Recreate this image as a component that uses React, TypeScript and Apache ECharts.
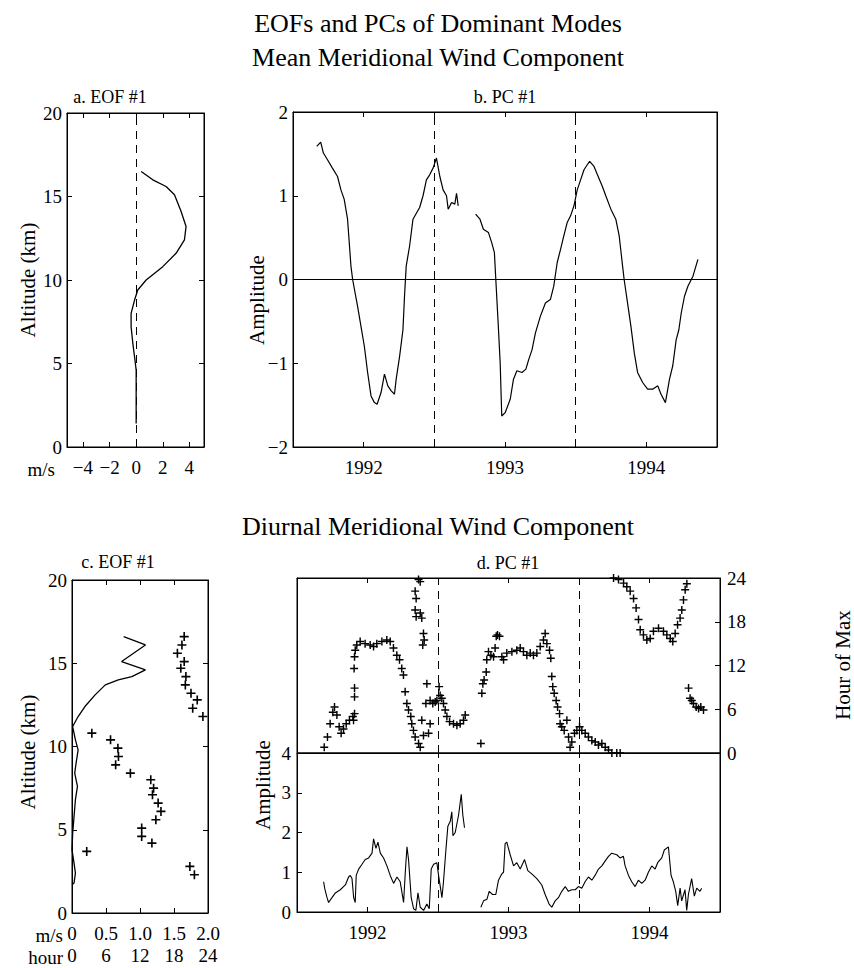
import React, { useEffect, useRef } from "react";
import * as echarts from "echarts";

// ---------- data ----------
const altitudeTicks = [0, 5, 10, 15, 20];
const meanEofTicks = [-4, -2, 0, 2, 4];
const yearMarks = [1992.5, 1993.5];

// a. EOF #1 (mean): [m/s, km]
const meanEof = [
  [0.38, 16.5], [1.25, 16.0], [2.25, 15.6], [2.88, 15.1], [3.38, 14.1], [3.75, 13.2],
  [3.63, 12.4], [3.0, 11.6], [2.0, 10.8], [0.75, 10.0], [0.12, 9.4], [-0.12, 8.8],
  [-0.38, 8.0], [-0.38, 7.2], [-0.25, 6.2], [-0.12, 5.4], [0, 4.6], [0, 2.8], [0, 1.4],
];

// b. PC #1 (mean): [year, amplitude]
const meanPcPart1 = [
  [1991.668, 1.59], [1991.696, 1.64], [1991.715, 1.51], [1991.744, 1.43], [1991.779, 1.33],
  [1991.815, 1.23], [1991.839, 1.07], [1991.862, 0.96], [1991.886, 0.72], [1991.91, 0.16],
  [1991.922, 0], [1991.957, -0.32], [1991.981, -0.56], [1992.005, -0.8], [1992.028, -1.11],
  [1992.052, -1.39], [1992.076, -1.47], [1992.095, -1.49], [1992.123, -1.35], [1992.147, -1.13],
  [1992.171, -1.27], [1992.195, -1.33], [1992.218, -1.37], [1992.23, -1.19], [1992.254, -0.92],
  [1992.278, -0.6], [1992.289, -0.2], [1992.301, 0.16], [1992.325, 0.4], [1992.349, 0.72],
  [1992.396, 0.86], [1992.42, 1.0], [1992.444, 1.19], [1992.467, 1.25], [1992.491, 1.33],
  [1992.515, 1.45], [1992.539, 1.23], [1992.562, 1.07], [1992.586, 1.0], [1992.598, 0.84],
  [1992.622, 0.92], [1992.645, 0.9], [1992.657, 1.03], [1992.669, 0.88],
];
const meanPcPart2 = [
  [1992.792, 0.78], [1992.823, 0.72], [1992.847, 0.6], [1992.883, 0.56], [1992.906, 0.44],
  [1992.925, 0.32], [1992.935, 0], [1992.954, -0.6], [1992.966, -1.0], [1992.977, -1.63],
  [1993.001, -1.59], [1993.037, -1.43], [1993.06, -1.19], [1993.084, -1.09], [1993.12, -1.11],
  [1993.148, -1.07], [1993.167, -0.96], [1993.191, -0.84], [1993.215, -0.64], [1993.25, -0.44],
  [1993.286, -0.28], [1993.321, -0.24], [1993.345, -0.08], [1993.369, 0.2], [1993.393, 0.36],
  [1993.416, 0.52], [1993.44, 0.68], [1993.464, 0.76], [1993.488, 0.88], [1993.511, 1.07],
  [1993.535, 1.19], [1993.559, 1.31], [1993.582, 1.37], [1993.599, 1.41], [1993.63, 1.35],
  [1993.654, 1.25], [1993.689, 1.11], [1993.713, 1.0], [1993.749, 0.84], [1993.784, 0.72],
  [1993.808, 0.52], [1993.832, 0.16], [1993.843, 0], [1993.867, -0.28], [1993.891, -0.56],
  [1993.915, -0.88], [1993.938, -1.11], [1993.974, -1.23], [1994.009, -1.31], [1994.045, -1.31],
  [1994.081, -1.27], [1994.104, -1.37], [1994.135, -1.47], [1994.164, -1.19], [1994.187, -1.03],
  [1994.211, -0.72], [1994.23, -0.6], [1994.247, -0.4], [1994.27, -0.2], [1994.294, -0.08],
  [1994.33, 0.04], [1994.365, 0.24],
];

// c. EOF #1 (diurnal): amplitude [m/s, km] and phase [hour, km]
const diurnalEofAmp = [
  [0.76, 16.6], [1.08, 16.1], [0.73, 15.1], [1.08, 14.6], [0.88, 14.2], [0.68, 14.0],
  [0.49, 13.7], [0.34, 13.1], [0.19, 12.4], [0.09, 11.8], [0.01, 11.2], [0.05, 10.4],
  [0.09, 9.8], [0.06, 9.0], [0.04, 8.4], [0.08, 7.6], [0.05, 6.8], [0.03, 5.8], [0.01, 4.8],
  [0, 3.8], [0.03, 3.0], [0.05, 2.4], [0.03, 1.8], [0, 1.7],
];
const diurnalEofHour = [
  [19.8, 16.6], [19.4, 16.1], [18.6, 15.6], [19.8, 15.1], [19.2, 14.7], [20.1, 14.2],
  [20.0, 13.7], [21.0, 13.2], [22.1, 12.8], [21.3, 12.3], [23.1, 11.8], [3.5, 10.8],
  [6.8, 10.4], [8.1, 9.9], [8.2, 9.4], [7.7, 8.9], [10.3, 8.4], [13.9, 8.0], [14.4, 7.5],
  [14.2, 7.1], [15.2, 6.6], [15.7, 6.1], [14.8, 5.6], [12.3, 5.1], [12.3, 4.6], [14.1, 4.2],
  [2.6, 3.7], [20.8, 2.8], [21.6, 2.3],
];

// d. PC #1 (diurnal): hour of max [year, hour]
const diurnalPcHour = [
  [1991.693, 0.8], [1991.716, 2.2], [1991.735, 4.0], [1991.754, 5.6], [1991.766, 6.3],
  [1991.783, 5.2], [1991.799, 3.6], [1991.813, 2.7], [1991.83, 3.3], [1991.849, 4.0],
  [1991.872, 4.5], [1991.896, 5.0], [1991.908, 5.4], [1991.901, 4.5], [1991.908, 7.7],
  [1991.908, 8.9], [1991.905, 11.6], [1991.908, 13.2], [1991.913, 14.1], [1991.924, 14.8],
  [1991.948, 15.3], [1991.983, 15.0], [1992.019, 14.8], [1992.043, 14.6], [1992.066, 15.0],
  [1992.102, 15.3], [1992.137, 15.5], [1992.161, 15.3], [1992.184, 14.4], [1992.208, 13.4],
  [1992.227, 12.8], [1992.243, 11.6], [1992.255, 10.7], [1992.267, 8.4], [1992.279, 6.8],
  [1992.291, 5.9], [1992.307, 5.0], [1992.314, 4.0], [1992.326, 3.1], [1992.338, 2.2],
  [1992.362, 1.3], [1992.374, 0.8], [1992.397, 2.4], [1992.385, 4.5], [1992.414, 6.8],
  [1992.421, 9.5], [1992.433, 2.7], [1992.444, 4.0], [1992.444, 7.2], [1992.463, 6.8],
  [1992.48, 7.0], [1992.492, 7.2], [1992.508, 9.1], [1992.515, 7.9], [1992.527, 7.5],
  [1992.539, 6.8], [1992.551, 5.9], [1992.563, 5.0], [1992.582, 4.3], [1992.61, 4.0],
  [1992.634, 3.8], [1992.657, 4.0], [1992.681, 4.5], [1992.693, 5.2],
  [1992.362, 23.8], [1992.374, 23.5], [1992.338, 22.2], [1992.345, 21.2], [1992.338, 19.6],
  [1992.345, 18.7], [1992.374, 19.2], [1992.385, 18.5], [1992.397, 16.4], [1992.402, 15.5],
  [1992.392, 14.8],
  [1992.804, 1.3],
  [1992.811, 8.2], [1992.818, 9.5], [1992.827, 10.0], [1992.842, 11.1], [1992.846, 12.8],
  [1992.858, 13.9], [1992.875, 13.4], [1992.894, 13.2], [1992.905, 14.4], [1992.913, 16.0],
  [1992.922, 16.2], [1992.936, 16.0], [1992.953, 13.2], [1992.965, 12.8], [1992.988, 13.7],
  [1993.024, 13.9], [1993.059, 14.1], [1993.083, 14.4], [1993.106, 13.9], [1993.13, 13.4],
  [1993.154, 13.7], [1993.177, 13.4], [1993.201, 13.7], [1993.225, 14.6], [1993.248, 15.5],
  [1993.26, 16.4], [1993.272, 15.0], [1993.291, 14.1], [1993.3, 13.0], [1993.307, 10.5],
  [1993.314, 9.1], [1993.324, 8.2], [1993.338, 7.2], [1993.348, 6.3], [1993.362, 5.4],
  [1993.366, 4.0], [1993.378, 3.6], [1993.395, 3.1], [1993.414, 4.5], [1993.426, 2.2],
  [1993.437, 0.8], [1993.449, 1.5], [1993.468, 2.7], [1993.485, 3.1], [1993.504, 3.6],
  [1993.52, 3.1], [1993.544, 2.7], [1993.567, 2.2], [1993.591, 1.7], [1993.615, 1.5],
  [1993.638, 1.1], [1993.662, 1.3], [1993.686, 0.8], [1993.709, 0.4], [1993.733, 0],
  [1993.768, 0], [1993.792, 0],
  [1993.745, 24], [1993.78, 23.8], [1993.816, 23.3], [1993.839, 22.8], [1993.863, 22.2],
  [1993.887, 21.2], [1993.905, 19.9], [1993.922, 18.3], [1993.934, 16.9], [1993.957, 16.2],
  [1993.981, 15.5], [1994.005, 15.7], [1994.028, 16.7], [1994.064, 17.1], [1994.099, 16.7],
  [1994.123, 16.2], [1994.147, 15.7], [1994.165, 15.3], [1994.182, 16.4], [1994.199, 17.6],
  [1994.217, 18.5], [1994.229, 19.6], [1994.241, 21.0], [1994.253, 22.4], [1994.265, 23.2],
  [1994.277, 8.9], [1994.288, 7.5], [1994.3, 7.2], [1994.312, 6.8], [1994.331, 6.3],
  [1994.348, 6.1], [1994.364, 6.3], [1994.383, 5.9],
];

// d. PC #1 (diurnal): amplitude [year, amplitude]
const diurnalPcPart1 = [
  [1991.689, 0.76], [1991.696, 0.6], [1991.713, 0.36], [1991.724, 0.24], [1991.748, 0.36],
  [1991.772, 0.48], [1991.807, 0.56], [1991.843, 0.68], [1991.866, 0.88], [1991.878, 0.92],
  [1991.89, 0.84], [1991.902, 0.36], [1991.913, 0.24], [1991.92, 0.92], [1991.937, 1.08],
  [1991.961, 1.2], [1991.984, 1.32], [1992.008, 1.36], [1992.032, 1.48], [1992.043, 1.84],
  [1992.06, 1.6], [1992.074, 1.76], [1992.091, 1.48], [1992.114, 1.36], [1992.138, 1.16],
  [1992.161, 0.92], [1992.185, 0.72], [1992.209, 0.88], [1992.232, 0.76], [1992.256, 0.24],
  [1992.268, 1.0], [1992.28, 1.64], [1992.291, 1.32], [1992.31, 0.36], [1992.327, 0.08],
  [1992.343, 0.04], [1992.358, 0.48], [1992.374, 0.12], [1992.398, 0.04], [1992.421, 0.2],
  [1992.438, 0.08], [1992.452, 1.08], [1992.469, 1.2], [1992.492, 1.24], [1992.504, 0.92],
  [1992.528, 0.36], [1992.539, 0.76], [1992.556, 1.56], [1992.57, 2.16], [1992.587, 2.28],
  [1992.598, 2.52], [1992.606, 1.92], [1992.622, 2.0], [1992.646, 2.44], [1992.665, 2.96],
  [1992.676, 2.44], [1992.688, 2.12],
];
const diurnalPcPart2 = [
  [1992.804, 0.12], [1992.823, 0.28], [1992.847, 0.32], [1992.863, 0.52], [1992.887, 0.44],
  [1992.91, 0.44], [1992.929, 0.8], [1992.953, 0.96], [1992.965, 1.0], [1992.976, 1.72],
  [1992.988, 1.76], [1993.012, 1.44], [1993.036, 1.16], [1993.059, 1.24], [1993.083, 1.08],
  [1993.114, 1.32], [1993.137, 1.04], [1993.165, 0.96], [1993.201, 0.84], [1993.236, 0.68],
  [1993.26, 0.44], [1993.288, 0.2], [1993.307, 0.12], [1993.331, 0.28], [1993.354, 0.36],
  [1993.378, 0.52], [1993.402, 0.64], [1993.425, 0.52], [1993.449, 0.56], [1993.473, 0.56],
  [1993.496, 0.64], [1993.52, 0.6], [1993.543, 0.76], [1993.567, 0.88], [1993.591, 0.8],
  [1993.614, 0.92], [1993.638, 1.08], [1993.662, 1.16], [1993.685, 1.28], [1993.709, 1.4],
  [1993.732, 1.48], [1993.768, 1.44], [1993.791, 1.36], [1993.815, 1.4], [1993.827, 1.16],
  [1993.851, 0.92], [1993.874, 0.76], [1993.898, 0.64], [1993.921, 0.8], [1993.945, 0.72],
  [1993.969, 0.8], [1993.992, 1.0], [1994.016, 1.16], [1994.04, 1.08], [1994.058, 1.24],
  [1994.087, 1.36], [1994.105, 1.56], [1994.134, 1.64], [1994.153, 0.92], [1994.169, 0.76],
  [1994.186, 0.52], [1994.2, 0.16], [1994.217, 0.6], [1994.228, 0.28], [1994.252, 0.56],
  [1994.264, 0.04], [1994.276, 0.44], [1994.299, 0.84], [1994.318, 0.4], [1994.335, 0.6],
  [1994.358, 0.52], [1994.37, 0.6],
];

// ---------- styling helpers ----------
const FONT = "'Liberation Serif', 'Times New Roman', serif";
const BLACK = "#000";
const PLUS = "path://M4.1,0H5.9V10H4.1ZM0,4.1H10V5.9H0Z";
const TICK_FS = 19;

const line = { show: true, onZero: false, lineStyle: { color: BLACK, width: 1 } };
const tick = (extra: any = {}) => ({ show: true, inside: true, length: 5, lineStyle: { color: BLACK, width: 1 }, ...extra });
const label = (extra: any = {}) => ({ show: true, color: BLACK, fontFamily: FONT, fontSize: TICK_FS, ...extra });
const noLabel = { show: false };
const noSplit = { show: false };
const minus = (v: number) => (v < 0 ? "\u2212" + Math.abs(v) : String(v));
const yearFmt = (v: number) => (Math.abs(v - Math.round(v)) < 1e-6 && v > 1991.9 && v < 1994.1 ? String(Math.round(v)) : "");

const dashed = { color: BLACK, width: 1, type: [8, 6] as any };
const vMarks = (extra: any[] = []) => ({
  silent: true,
  symbol: ["none", "none"],
  label: { show: false },
  lineStyle: dashed,
  data: [...yearMarks.map((v) => ({ xAxis: v })), ...extra],
});

const text = (t: string, x: number, y: number, size: number, extra: any = {}) => ({
  type: "text",
  x,
  y,
  silent: true,
  ...extra,
  style: {
    text: t,
    font: `${size}px ${FONT}`,
    fill: BLACK,
    align: extra.align || "center",
    verticalAlign: "middle",
    textAlign: extra.align || "center",
    textVerticalAlign: "middle",
  },
});

export default function App() {
  const ref = useRef<HTMLDivElement>(null);

  useEffect(() => {
    document.body.style.margin = "0";
    if (!ref.current) return;
    const chart = echarts.init(ref.current, undefined, { renderer: "svg" });

    const gridBase = { show: true, borderColor: BLACK, borderWidth: 1, backgroundColor: "transparent", containLabel: false };

    const option: any = {
      animation: false,
      backgroundColor: "#fff",
      textStyle: { fontFamily: FONT, color: BLACK },
      grid: [
        { ...gridBase, left: 67, top: 113, width: 137, height: 334 },
        { ...gridBase, left: 293, top: 112, width: 424, height: 335 },
        { ...gridBase, left: 72, top: 580, width: 136, height: 333 },
        { ...gridBase, left: 297, top: 578, width: 423, height: 175 },
        { ...gridBase, left: 297, top: 753, width: 423, height: 159 },
      ],
      xAxis: [
        {
          gridIndex: 0, type: "value", min: -5.2, max: 5.1, position: "bottom",
          axisLine: line, splitLine: noSplit,
          axisTick: tick({ customValues: meanEofTicks }),
          axisLabel: label({ customValues: meanEofTicks, margin: 11, formatter: minus }),
        },
        {
          gridIndex: 0, type: "value", min: -5.2, max: 5.1, position: "top",
          axisLine: line, splitLine: noSplit, axisTick: tick({ customValues: meanEofTicks }), axisLabel: noLabel,
        },
        {
          gridIndex: 1, type: "value", min: 1991.5, max: 1994.5, interval: 0.5, position: "bottom",
          axisLine: line, splitLine: noSplit, axisTick: tick(), axisLabel: label({ margin: 11, formatter: yearFmt }),
        },
        {
          gridIndex: 1, type: "value", min: 1991.5, max: 1994.5, interval: 0.5, position: "top",
          axisLine: line, splitLine: noSplit, axisTick: tick(), axisLabel: noLabel,
        },
        {
          gridIndex: 2, type: "value", min: 0, max: 2, interval: 0.5, position: "bottom",
          axisLine: line, splitLine: noSplit, axisTick: tick(),
          axisLabel: label({ margin: 11, formatter: (v: number) => (v === 0 ? "0" : v.toFixed(1)) }),
        },
        {
          gridIndex: 2, type: "value", min: 0, max: 2, interval: 0.5, position: "top",
          axisLine: line, splitLine: noSplit, axisTick: tick(), axisLabel: noLabel,
        },
        {
          gridIndex: 2, type: "value", min: 0, max: 24, interval: 6, position: "bottom", offset: 22,
          axisLine: { show: false }, splitLine: noSplit, axisTick: { show: false },
          axisLabel: label({ margin: 11 }),
        },
        {
          gridIndex: 3, type: "value", min: 1991.5, max: 1994.5, interval: 0.5, position: "top",
          axisLine: line, splitLine: noSplit, axisTick: tick(), axisLabel: noLabel,
        },
        {
          gridIndex: 3, type: "value", min: 1991.5, max: 1994.5, interval: 0.5, position: "bottom",
          axisLine: line, splitLine: noSplit, axisTick: { show: false }, axisLabel: noLabel,
        },
        {
          gridIndex: 4, type: "value", min: 1991.5, max: 1994.5, interval: 0.5, position: "bottom",
          axisLine: line, splitLine: noSplit, axisTick: tick(), axisLabel: label({ margin: 11, formatter: yearFmt }),
        },
      ],
      yAxis: [
        {
          gridIndex: 0, type: "value", min: 0, max: 20, interval: 5, position: "left",
          axisLine: line, splitLine: noSplit, axisTick: tick(), axisLabel: label({ margin: 5 }),
        },
        {
          gridIndex: 0, type: "value", min: 0, max: 20, interval: 5, position: "right",
          axisLine: line, splitLine: noSplit, axisTick: tick(), axisLabel: noLabel,
        },
        {
          gridIndex: 1, type: "value", min: -2, max: 2, interval: 1, position: "left",
          axisLine: line, splitLine: noSplit, axisTick: tick(), axisLabel: label({ margin: 5, formatter: minus }),
        },
        {
          gridIndex: 1, type: "value", min: -2, max: 2, interval: 1, position: "right",
          axisLine: line, splitLine: noSplit, axisTick: { show: false }, axisLabel: noLabel,
        },
        {
          gridIndex: 2, type: "value", min: 0, max: 20, interval: 5, position: "left",
          axisLine: line, splitLine: noSplit, axisTick: tick(), axisLabel: label({ margin: 5 }),
        },
        {
          gridIndex: 2, type: "value", min: 0, max: 20, interval: 5, position: "right",
          axisLine: line, splitLine: noSplit, axisTick: tick(), axisLabel: noLabel,
        },
        {
          gridIndex: 3, type: "value", min: 0, max: 24, interval: 6, position: "right",
          axisLine: line, splitLine: noSplit, axisTick: tick(), axisLabel: label({ margin: 7 }),
        },
        {
          gridIndex: 3, type: "value", min: 0, max: 24, interval: 6, position: "left",
          axisLine: line, splitLine: noSplit, axisTick: { show: false }, axisLabel: noLabel,
        },
        {
          gridIndex: 4, type: "value", min: 0, max: 4, interval: 1, position: "left",
          axisLine: line, splitLine: noSplit, axisTick: tick(), axisLabel: label({ margin: 6 }),
        },
        {
          gridIndex: 4, type: "value", min: 0, max: 4, interval: 1, position: "right",
          axisLine: line, splitLine: noSplit, axisTick: { show: false }, axisLabel: noLabel,
        },
      ],
      series: [
        {
          type: "line", xAxisIndex: 0, yAxisIndex: 0, data: meanEof, showSymbol: false, symbol: "none",
          lineStyle: { color: BLACK, width: 1.3 }, smooth: false,
          markLine: { silent: true, symbol: ["none", "none"], label: { show: false }, lineStyle: dashed, data: [{ xAxis: 0 }] },
        },
        {
          type: "line", xAxisIndex: 2, yAxisIndex: 2, data: meanPcPart1, showSymbol: false, symbol: "none",
          lineStyle: { color: BLACK, width: 1.2 },
          markLine: vMarks([{ yAxis: 0, lineStyle: { color: BLACK, width: 1.2, type: "solid" } }]),
        },
        {
          type: "line", xAxisIndex: 2, yAxisIndex: 2, data: meanPcPart2, showSymbol: false, symbol: "none",
          lineStyle: { color: BLACK, width: 1.2 },
        },
        {
          type: "line", xAxisIndex: 4, yAxisIndex: 4, data: diurnalEofAmp, showSymbol: false, symbol: "none",
          lineStyle: { color: BLACK, width: 1.3 },
        },
        {
          type: "scatter", xAxisIndex: 6, yAxisIndex: 4, data: diurnalEofHour, symbol: PLUS, symbolSize: 9,
          itemStyle: { color: BLACK, opacity: 1 },
        },
        {
          type: "scatter", xAxisIndex: 7, yAxisIndex: 6, data: diurnalPcHour, symbol: PLUS, symbolSize: 8,
          itemStyle: { color: BLACK, opacity: 1 }, markLine: vMarks(),
        },
        {
          type: "line", xAxisIndex: 9, yAxisIndex: 8, data: diurnalPcPart1, showSymbol: false, symbol: "none",
          lineStyle: { color: BLACK, width: 1.1 }, markLine: vMarks(),
        },
        {
          type: "line", xAxisIndex: 9, yAxisIndex: 8, data: diurnalPcPart2, showSymbol: false, symbol: "none",
          lineStyle: { color: BLACK, width: 1.1 },
        },
      ],
      graphic: [
        text("EOFs and PCs of Dominant Modes", 438, 23, 26),
        text("Mean Meridional Wind Component", 438, 57, 26),
        text("a. EOF #1", 110, 97, 18),
        text("b. PC #1", 505, 97, 18),
        text("Diurnal Meridional Wind Component", 438, 526, 26),
        text("c. EOF #1", 118, 562, 18),
        text("d. PC #1", 508, 563, 18),
        text("Altitude (km)", 28, 280, 21, { rotation: Math.PI / 2 }),
        text("Altitude (km)", 28, 752, 21, { rotation: Math.PI / 2 }),
        text("Amplitude", 257, 300, 21, { rotation: Math.PI / 2 }),
        text("Amplitude", 263, 785, 21, { rotation: Math.PI / 2 }),
        text("Hour of Max", 843, 665, 21, { rotation: Math.PI / 2 }),
        text("m/s", 55, 469, TICK_FS, { align: "right" }),
        text("m/s", 63, 935, TICK_FS, { align: "right" }),
        text("hour", 63, 957, TICK_FS, { align: "right" }),
      ],
    };

    chart.setOption(option);
    return () => chart.dispose();
  }, []);

  return <div ref={ref} style={{ width: 854, height: 968 }} />;
}
